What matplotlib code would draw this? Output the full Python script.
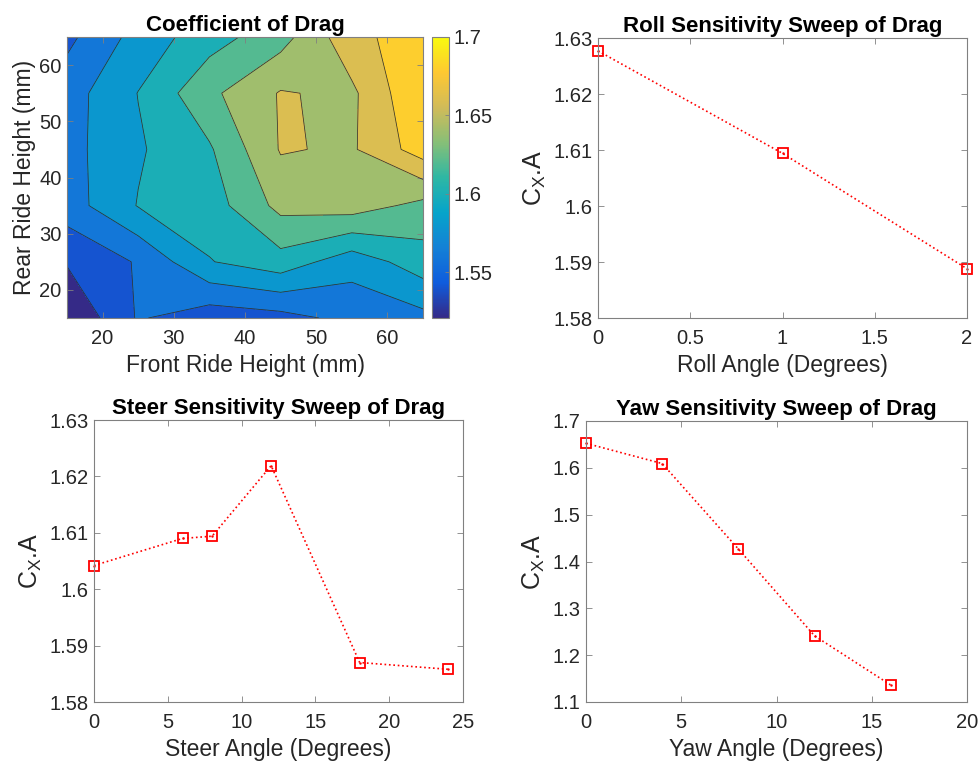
import numpy as np
import matplotlib
matplotlib.use("Agg")
import matplotlib.pyplot as plt
from matplotlib.colors import LinearSegmentedColormap, Normalize
from matplotlib.ticker import FuncFormatter
import matplotlib.cm as cm

plt.rcParams['font.family'] = ['Liberation Sans', 'DejaVu Sans']
plt.rcParams['mathtext.default'] = 'regular'

# ride height grid (mm)
front_rh = [15, 25, 35, 45, 55, 65]
rear_rh = [15, 25, 35, 45, 55, 65]
# drag coefficient, rows = rear ride height, cols = front ride height
cd_grid = [
    [1.521, 1.562, 1.548, 1.553, 1.566, 1.574],
    [1.5417, 1.562, 1.599, 1.612, 1.588, 1.611],
    [1.5706, 1.601, 1.610, 1.646, 1.650, 1.634],
    [1.573, 1.5976, 1.6175, 1.6615, 1.6575, 1.690],
    [1.571, 1.6005, 1.6355, 1.6615, 1.656, 1.700],
    [1.555, 1.5875, 1.6115, 1.632, 1.6735, 1.692],
]

roll_angle = [0, 1, 2]
roll_cxa = [1.6277, 1.6094, 1.5888]

steer_angle = [0, 6, 8, 12, 18, 24]
steer_cxa = [1.6042, 1.6090, 1.6094, 1.6219, 1.5870, 1.5858]

yaw_angle = [0, 4, 8, 12, 16]
yaw_cxa = [1.6524, 1.6091, 1.4266, 1.2412, 1.1361]

parula = LinearSegmentedColormap.from_list(
    "parula", ['#352a87', '#0f5cdd', '#1481d6', '#06a4ca', '#2eb7a4',
               '#87bf77', '#d1bb59', '#fec832', '#f9fb0e'])

EDGE = '#303030'
TXT = '#262626'
TICK_FS = 14.5
LABEL_FS = 16.5
TITLE_FS = 16
fmt = FuncFormatter(lambda v, p: f"{v:g}")


def style_axes(ax):
    for s in ax.spines.values():
        s.set_color('#808080')
        s.set_linewidth(0.8)
    ax.tick_params(direction='in', top=True, right=True, length=4,
                   width=0.6, color='#808080', labelsize=TICK_FS,
                   labelcolor=TXT, pad=4)
    ax.tick_params(axis='x', pad=8)
    ax.xaxis.set_major_formatter(fmt)
    ax.yaxis.set_major_formatter(fmt)


def fpos(left, top, right, bottom, W=980, H=765):
    return [left / W, 1 - bottom / H, (right - left) / W, (bottom - top) / H]


fig = plt.figure(figsize=(9.8, 7.65), dpi=100)

# contour plot
Z = np.array(cd_grid)
zmin, zmax = Z.min(), Z.max()
levels = np.linspace(1.52, 1.70, 10)
norm = Normalize(zmin, zmax)
band_colors = [parula(norm(l)) for l in levels[:-1]]

ax1 = fig.add_axes(fpos(67, 37, 423, 318))
ax1.contourf(front_rh, rear_rh, Z, levels=levels, colors=band_colors)
ax1.contour(front_rh, rear_rh, Z, levels=levels, colors=EDGE, linewidths=0.55)
ax1.set_xlim(15, 65)
ax1.set_ylim(15, 65)
ax1.set_xticks([20, 30, 40, 50, 60])
ax1.set_yticks([20, 30, 40, 50, 60])
style_axes(ax1)
ax1.set_xlabel("Front Ride Height (mm)", fontsize=LABEL_FS, color=TXT, labelpad=4)
ax1.set_ylabel("Rear Ride Height (mm)", fontsize=LABEL_FS, color=TXT, labelpad=2)
ax1.set_title("Coefficient of Drag", fontsize=TITLE_FS, fontweight='bold', pad=4)

cax = fig.add_axes(fpos(432, 37, 449, 318))
sm = cm.ScalarMappable(norm=norm, cmap=parula)
cb = fig.colorbar(sm, cax=cax, ticks=[1.55, 1.6, 1.65, 1.7])
cb.ax.yaxis.set_major_formatter(fmt)
cb.ax.tick_params(direction='in', length=3, width=0.6, color='#808080',
                  labelsize=TICK_FS, labelcolor=TXT)
cb.outline.set_edgecolor('#808080')
cb.outline.set_linewidth(0.8)


def sweep(ax, x, y, title, xlabel, xlim, xticks, ylim, yticks):
    ax.plot(x, y, ':', color='red', linewidth=1.2, marker='s', markersize=6.5,
            markerfacecolor='none', markeredgecolor='red', markeredgewidth=1.3,
            clip_on=False)
    ax.plot(x, y, '.', color='red', markersize=1.5, clip_on=False)
    ax.set_xlim(*xlim)
    ax.set_ylim(*ylim)
    ax.set_xticks(xticks)
    ax.set_yticks(yticks)
    style_axes(ax)
    ax.set_xlabel(xlabel, fontsize=LABEL_FS, color=TXT, labelpad=4)
    ax.set_ylabel(r"C$_{X}$.A", fontsize=18, color=TXT, labelpad=4)
    ax.set_title(title, fontsize=TITLE_FS, fontweight='bold', pad=4)


ax2 = fig.add_axes(fpos(598, 38, 967, 318))
sweep(ax2, roll_angle, roll_cxa, "Roll Sensitivity Sweep of Drag",
      "Roll Angle (Degrees)", (0, 2), [0, 0.5, 1, 1.5, 2],
      (1.58, 1.63), [1.58, 1.59, 1.60, 1.61, 1.62, 1.63])

ax3 = fig.add_axes(fpos(94, 420, 463, 702))
sweep(ax3, steer_angle, steer_cxa, "Steer Sensitivity Sweep of Drag",
      "Steer Angle (Degrees)", (0, 25), [0, 5, 10, 15, 20, 25],
      (1.58, 1.63), [1.58, 1.59, 1.60, 1.61, 1.62, 1.63])

ax4 = fig.add_axes(fpos(586, 421, 967, 702))
sweep(ax4, yaw_angle, yaw_cxa, "Yaw Sensitivity Sweep of Drag",
      "Yaw Angle (Degrees)", (0, 20), [0, 5, 10, 15, 20],
      (1.1, 1.7), [1.1, 1.2, 1.3, 1.4, 1.5, 1.6, 1.7])

fig.savefig("out.png", dpi=100, facecolor='white')
